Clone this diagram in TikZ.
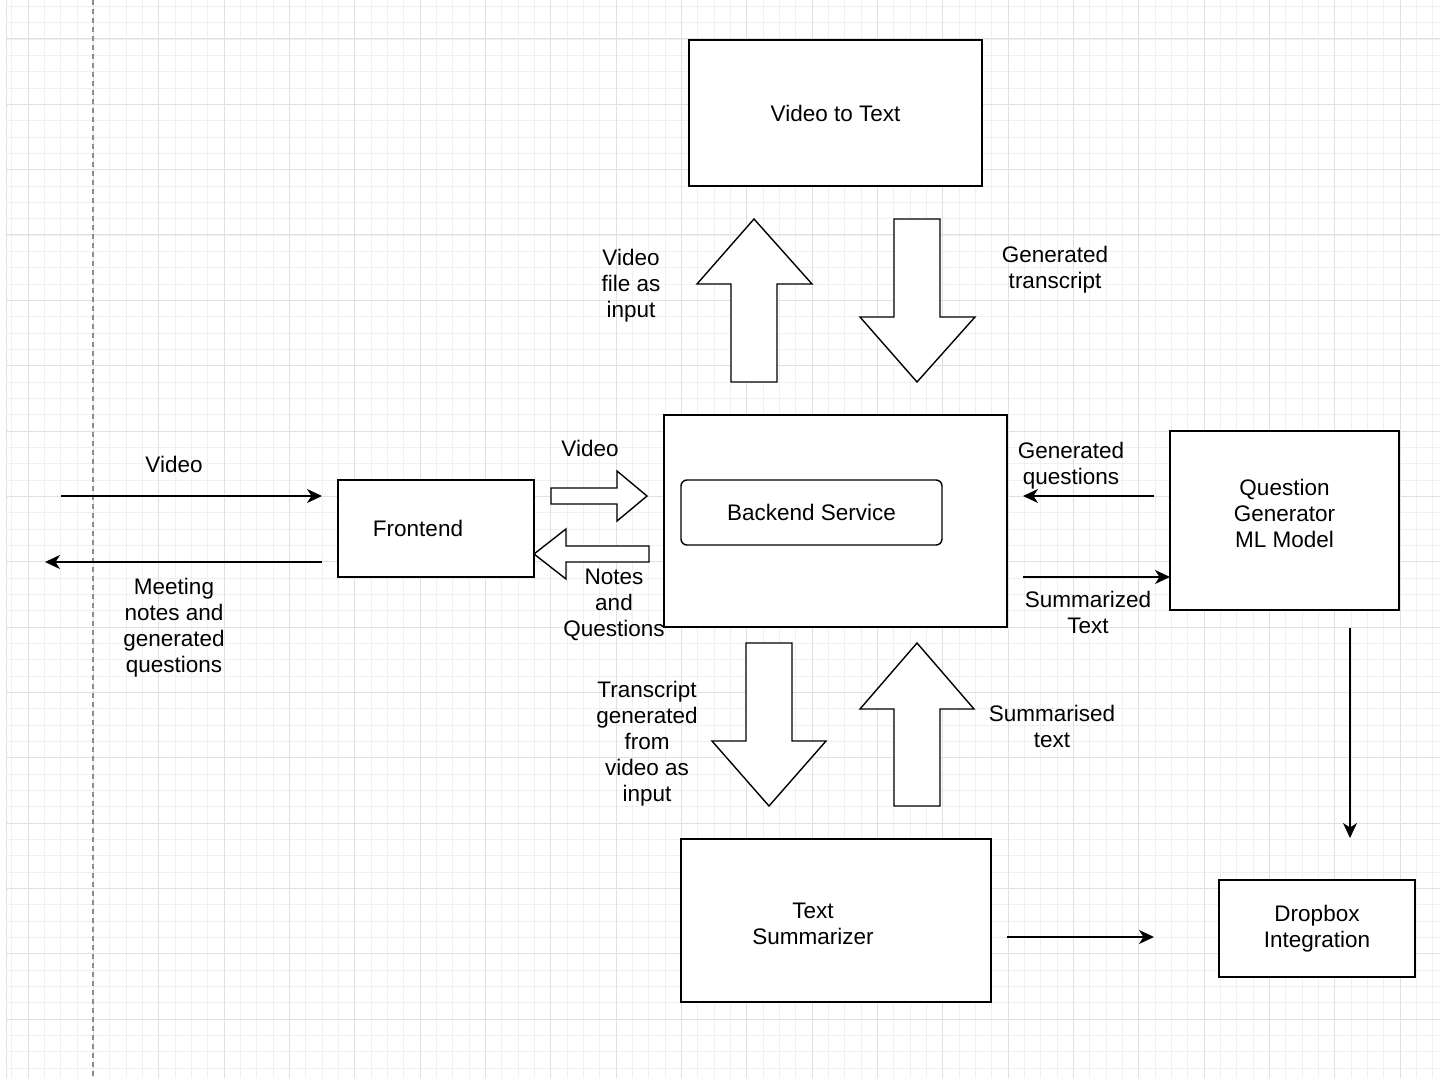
\documentclass[tikz,border=0pt]{standalone}
\usepackage{fontspec}
\setmainfont{Liberation Sans}
\usetikzlibrary{arrows.meta}

\tikzset{
  box/.style={draw, line width=1.4pt, fill=white, align=center, inner sep=0pt},
  lbl/.style={align=center, inner sep=0pt},
  conn/.style={->, line width=1.4pt},
  fatarrow/.style={draw, fill=white, line width=1.4pt, line join=miter},
  minorgrid/.style={line width=0.8pt, black!6},
  majorgrid/.style={line width=1pt, black!12},
}

\begin{document}
\begin{tikzpicture}[x=1pt, y=-1pt, >={Stealth[length=15pt,width=14pt,inset=4.5pt]},
  font=\fontsize{22.5}{26}\selectfont]
 \useasboundingbox[fill=white] (0,0) rectangle (1440,1078);
 % grid
 \foreach \k in {-1,...,86} \draw[minorgrid] ({28+16.333*\k},0) -- ({28+16.333*\k},1078);
 \foreach \k in {-2,...,63} \draw[minorgrid] (6,{39+16.333*\k}) -- (1440,{39+16.333*\k});
 \foreach \k in {0,...,21} \draw[majorgrid] ({28+65.333*\k},0) -- ({28+65.333*\k},1078);
 \foreach \k in {0,...,15} \draw[majorgrid] (6,{39+65.333*\k}) -- (1440,{39+65.333*\k});
 \draw[majorgrid] (6,0) -- (6,1078);
 \draw[black!45, line width=1.2pt, dash pattern=on 5pt off 4pt] (93,0) -- (93,1078);

 % boxes
 \node[box, minimum width=293pt, minimum height=146pt] (vidtotext) at (835.5,113) {Video to Text};
 \node[box, minimum width=343pt, minimum height=212pt] (backend) at (835.5,521) {};
 \node[box, rounded corners=6pt, minimum width=261pt, minimum height=65pt] (service) at (811.5,512.5) {Backend Service};
 \node[box, minimum width=196pt, minimum height=97pt] (frontend) at (436,528.5) {};
 \node[lbl] (frontend-txt) at ([xshift=-18pt]frontend.center) {Frontend};
 \node[box, minimum width=229pt, minimum height=179pt] (qgen) at (1284.5,520.5) {};
 \node[lbl] (qgen-txt) at ([yshift=7.5pt]qgen.center) {Question\\Generator\\ML Model};
 \node[box, minimum width=310pt, minimum height=163pt] (summarizer) at (836,920.5) {};
 \node[lbl] (summarizer-txt) at ([xshift=-23pt,yshift=-3.5pt]summarizer.center) {Text\\Summarizer};
 \node[box, minimum width=196pt, minimum height=97pt] (dropbox) at (1317,928.5) {Dropbox\\Integration};

 % fat arrows
 \draw[fatarrow] (731,382) -- (731,284) -- (697,284) -- (754,219) -- (812,284) -- (777,284) -- (777,382) -- cycle;
 \draw[fatarrow] (894,219) -- (940,219) -- (940,317) -- (975,317) -- (917,382) -- (860,317) -- (894,317) -- cycle;
 \draw[fatarrow] (746,643) -- (792,643) -- (792,741) -- (826,741) -- (769,806) -- (712,741) -- (746,741) -- cycle;
 \draw[fatarrow] (894,806) -- (894,709) -- (860,709) -- (917,643) -- (974,709) -- (940,709) -- (940,806) -- cycle;
 \draw[fatarrow] (551,488) -- (617,488) -- (617,471) -- (647,496) -- (617,521) -- (617,504) -- (551,504) -- cycle;
 \draw[fatarrow] (649,546) -- (566,546) -- (566,529) -- (534,554) -- (566,579) -- (566,562) -- (649,562) -- cycle;

 % line arrows
 \coordinate (vidin) at (61,496);
 \coordinate (vidend) at (322,496);
 \coordinate (notesfrom) at (322,562);
 \coordinate (notesout) at (45,562);
 \coordinate (qfrom) at (1154,496);
 \coordinate (qback) at (1023,496);
 \coordinate (sumout) at (1023,577);
 \coordinate (sumto) at (1170,577);
 \coordinate (dropfrom) at (1350,628);
 \coordinate (dropin) at (1350,838);
 \coordinate (sumleft) at (1007,937);
 \coordinate (sumright) at (1154,937);
 \draw[conn] (vidin) -- (vidend);
 \draw[conn] (notesfrom) -- (notesout);
 \draw[conn] (qfrom) -- (qback);
 \draw[conn] (sumout) -- (sumto);
 \draw[conn] (dropfrom) -- (dropin);
 \draw[conn] (sumleft) -- (sumright);

 % labels
 \node[lbl] (l-video) at (174,464) {Video};
 \node[lbl] (l-notes) at (174,628) {Meeting\\notes and\\generated\\questions};
 \node[lbl] (l-vfile) at (631,286) {Video\\file as\\input};
 \node[lbl] (l-transcript) at (1055,270) {Generated\\transcript};
 \node[lbl] (l-video2) at (590,448) {Video};
 \node[lbl] (l-notes2) at (614,605) {Notes\\and\\Questions};
 \node[lbl] (l-genq) at (1071,466) {Generated\\questions};
 \node[lbl] (l-sumtext) at (1088,612) {Summarized\\Text};
 \node[lbl] (l-trgen) at (647,744) {Transcript\\generated\\from\\video as\\input};
 \node[lbl] (l-sumback) at (1052,726) {Summarised\\text};
\end{tikzpicture}
\end{document}
